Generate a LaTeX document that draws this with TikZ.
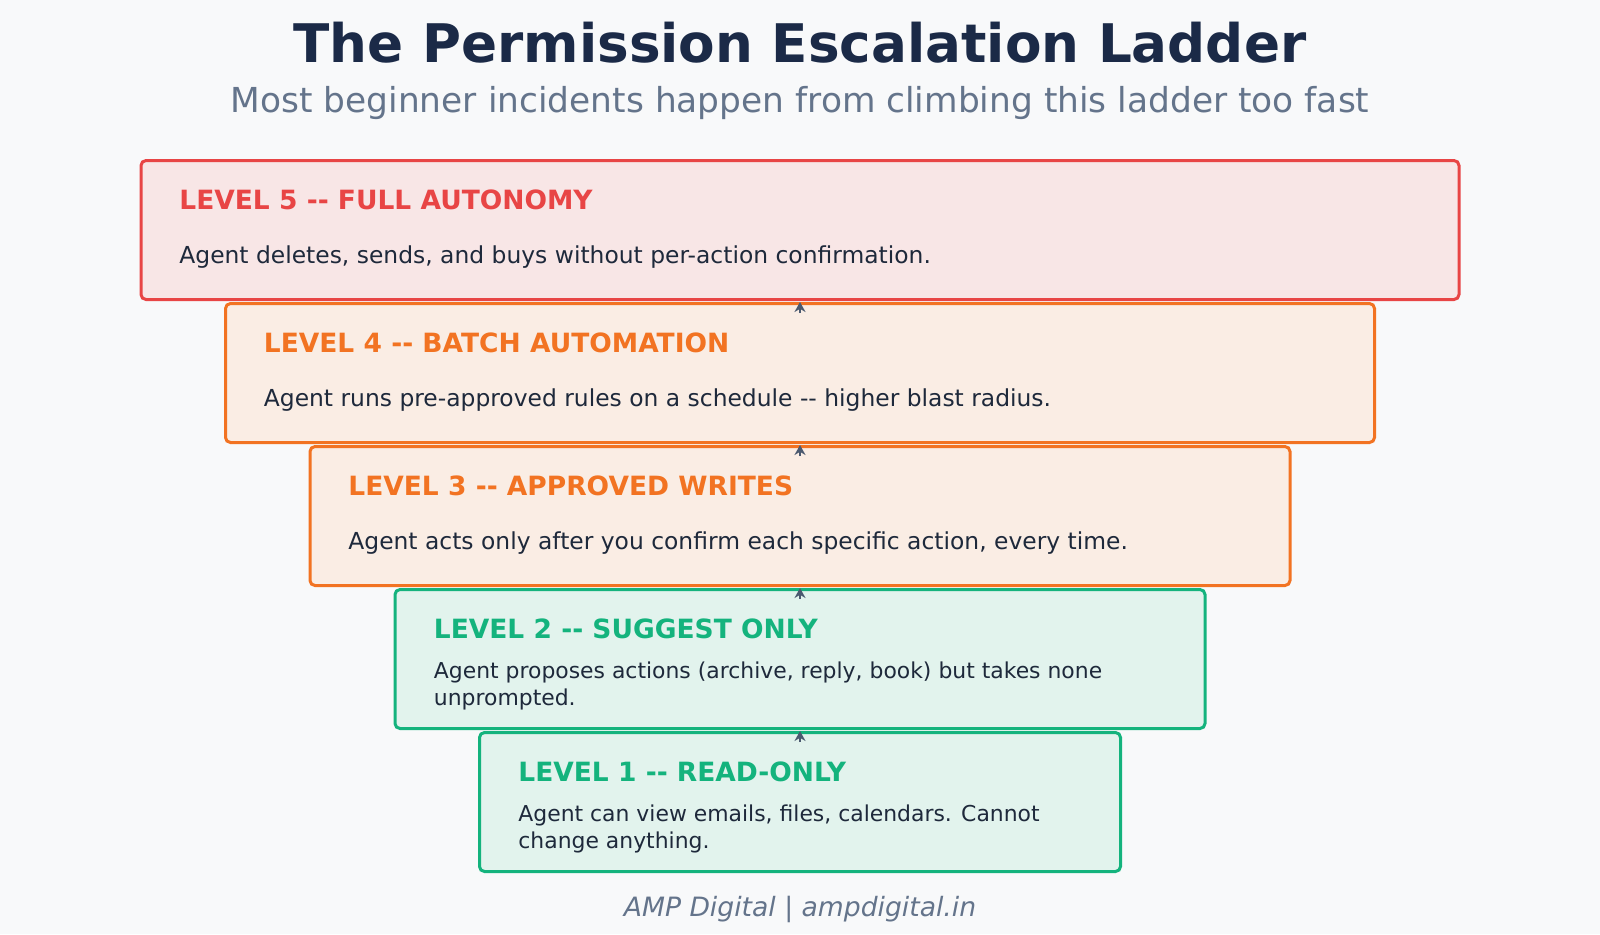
\documentclass[tikz,border=0pt]{standalone}
\usepackage{fontspec}
\setmainfont{DejaVu Sans}
\usetikzlibrary{arrows.meta}
\newcommand{\dd}{-\kern0pt-}
\definecolor{bg}{HTML}{F8F9FA}
\definecolor{navy}{HTML}{1B2A47}
\definecolor{sub}{HTML}{64748B}
\definecolor{arrc}{HTML}{4B5A70}
\definecolor{txt}{HTML}{1E293B}
\definecolor{redc}{HTML}{E84545}
\definecolor{redf}{HTML}{F8E6E6}
\definecolor{orc}{HTML}{F27322}
\definecolor{orf}{HTML}{FAEDE4}
\definecolor{grc}{HTML}{14B37D}
\definecolor{grf}{HTML}{E2F3ED}
\tikzset{
  lvl/.style={draw=#1c, fill=#1f, line width=1.5pt, rounded corners=2.5pt, minimum height=69.5pt, inner sep=0pt},
  head/.style={anchor=west, inner sep=0pt, text=#1c, font=\fontsize{13.25}{15}\selectfont\bfseries},
  desc/.style={anchor=west, inner sep=0pt, text=txt, align=left, font=\fontsize{11.7}{13.3}\selectfont},
  descs/.style={anchor=west, inner sep=0pt, text=txt, align=left, font=\fontsize{10.95}{13.3}\selectfont},
  arr/.style={-{Stealth[length=5pt,width=5.5pt]}, draw=arrc, line width=1.1pt},
}
\begin{document}
\begin{tikzpicture}[x=0.5pt,y=-0.5pt]
\fill[bg] (0,0) rectangle (1600,934);
\useasboundingbox (0,0) rectangle (1600,934);
\node[text=navy, font=\fontsize{26.6}{30}\selectfont\bfseries] (title) at (800,43) {The Permission Escalation Ladder};
\node[text=sub, font=\fontsize{17.2}{20}\selectfont] (subtitle) at (800,103) {Most beginner incidents happen from climbing this ladder too fast};

\node[lvl=red, minimum width=659pt] (b5) at (800,230) {};
\node[lvl=or, minimum width=574.5pt] (b4) at (800,373) {};
\node[lvl=or, minimum width=490pt] (b3) at (800,516) {};
\node[lvl=gr, minimum width=405pt] (b2) at (800,659) {};
\node[lvl=gr, minimum width=320.5pt] (b1) at (800,802) {};

\node[head=red] (h5) at (179,200) {LEVEL 5 \dd{} FULL AUTONOMY};
\node[desc] (d5) at (179,257) {Agent deletes, sends, and buys without per-action confirmation.};
\node[head=or] (h4) at (263.5,343) {LEVEL 4 \dd{} BATCH AUTOMATION};
\node[desc] (d4) at (263.5,400) {Agent runs pre-approved rules on a schedule \dd{} higher blast radius.};
\node[head=or] (h3) at (348,486) {LEVEL 3 \dd{} APPROVED WRITES};
\node[desc] (d3) at (348,543) {Agent acts only after you confirm each specific action, every time.};
\node[head=gr] (h2) at (433.5,629) {LEVEL 2 \dd{} SUGGEST ONLY};
\node[descs] (d2) at (433.5,686) {Agent proposes actions (archive, reply, book) but takes none\\unprompted.};
\node[head=gr] (h1) at (518,772) {LEVEL 1 \dd{} READ-ONLY};
\node[descs] (d1) at (518,829) {Agent can view emails, files, calendars. Cannot\\change anything.};

\draw[arr] ([yshift=-5.5pt]b4.north) -- ([yshift=-0.5pt]b5.south);
\draw[arr] ([yshift=-5.5pt]b3.north) -- ([yshift=-0.5pt]b4.south);
\draw[arr] ([yshift=-5.5pt]b2.north) -- ([yshift=-0.5pt]b3.south);
\draw[arr] ([yshift=-5.5pt]b1.north) -- ([yshift=-0.5pt]b2.south);

\node[text=sub, font=\fontsize{13.3}{16}\selectfont\itshape] (foot) at (800,909) {AMP Digital | ampdigital.in};
\end{tikzpicture}
\end{document}
